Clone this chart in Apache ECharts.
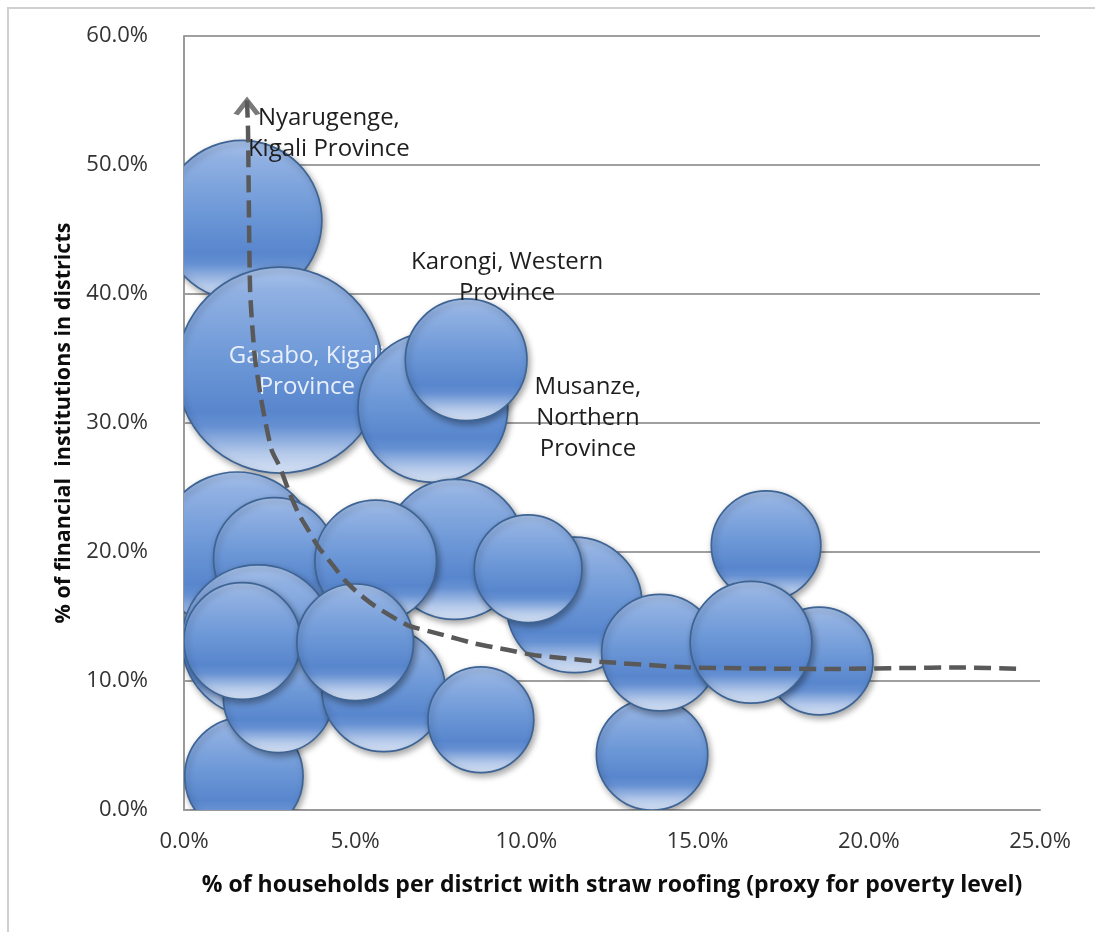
<!DOCTYPE html>
<html>
<head>
<meta charset="utf-8">
<script src="https://cdn.jsdelivr.net/npm/echarts@6/dist/echarts.min.js"></script>
<style>
html,body{margin:0;padding:0;background:#fff;}
#c{width:1095px;height:932px;}
</style>
</head>
<body>
<div id="c"></div>
<script>
// ---- data ----
const xValues = [1.69, 2.8, 1.55, 7.27, 8.24, 7.9, 11.4, 2.64, 2.16, 5.6, 10.05, 1.75, 2.75, 5.83, 1.7, 5.0, 8.67, 13.67, 13.9, 17.0, 18.55, 16.56];
const yValues = [45.7, 34.1, 20.0, 31.2, 34.9, 20.2, 15.9, 19.5, 13.1, 19.3, 18.7, 2.6, 8.7, 9.3, 13.1, 13.0, 7.0, 4.3, 12.2, 20.5, 11.55, 13.0];
const bubbleSizes = [64, 106, 64, 56, 37, 49, 46, 37, 58, 37, 29, 35, 30, 38, 34, 34, 28, 31, 34, 30, 29, 37];
const districtLabels = ['Nyarugenge,\nKigali Province', 'Gasabo, Kigali\nProvince', '', 'Musanze,\nNorthern\nProvince', 'Karongi, Western\nProvince',
  '', '', '', '', '', '', '', '', '', '', '', '', '', '', '', '', ''];
const trendX = [1.84, 1.87, 1.93, 2.07, 2.29, 2.56, 2.80, 3.05, 3.34, 3.63, 3.92, 4.31, 4.70, 5.09, 5.58, 6.07, 6.55, 7.53, 8.50, 9.47, 10.25, 12.15, 14.68, 16.8, 18.95, 20.91, 22.7, 24.36];
const trendY = [55.0, 52.7, 40.3, 35.1, 31.3, 27.9, 26.6, 24.8, 23.0, 21.7, 20.4, 19.1, 17.8, 16.8, 15.8, 15.0, 14.3, 13.6, 12.9, 12.4, 12.0, 11.5, 11.06, 10.97, 10.93, 11.0, 11.05, 10.95];
const xTitle = '% of households per district with straw roofing (proxy for poverty level)';
const yTitle = '% of financial  institutions in districts';

// ---- styling ----
const BUBBLE_SCALE = 10;
const labelStyle = {
  0: {dx: 87, dy: -87, fill: '#1e1e1e'},
  1: {dx: 27, dy: 2, fill: '#e8effa'},
  3: {dx: 155, dy: 11, fill: '#1e1e1e'},
  4: {dx: 41, dy: -82, fill: '#1e1e1e'}
};
const FONT = '"Open Sans", "Liberation Sans", sans-serif';

const bubbleData = xValues.map((x, i) => [x, yValues[i], bubbleSizes[i]]);
const trendData = trendX.map((x, i) => [x, trendY[i]]);

function bubbleFill() {
  return new echarts.graphic.LinearGradient(0, 0, 0, 1, [
    {offset: 0, color: '#aac4ec'},
    {offset: 0.12, color: '#90b0e2'},
    {offset: 0.45, color: '#6d98d7'},
    {offset: 0.7, color: '#5886cd'},
    {offset: 0.77, color: '#6590d2'},
    {offset: 0.9, color: '#b4c9ea'},
    {offset: 1, color: '#d6e2f4'}
  ]);
}

const chart = echarts.init(document.getElementById('c'), null, {renderer: 'canvas'});
chart.setOption({
  backgroundColor: '#fff',
  animation: false,
  graphic: [{
    type: 'rect', silent: true, z: -10,
    shape: {x: 8, y: 8, width: 1300, height: 1300},
    style: {fill: 'none', stroke: '#d0d0d0', lineWidth: 2}
  }],
  grid: {left: 184, right: 55, top: 36, bottom: 122, containLabel: false},
  xAxis: {
    type: 'value', min: 0, max: 25, interval: 5,
    name: xTitle, nameLocation: 'middle', nameGap: 64,
    nameTextStyle: {fontFamily: FONT, fontWeight: 'bold', fontSize: 23, color: '#0d0d0d'},
    axisLine: {show: true, lineStyle: {color: '#9a9a9a', width: 2}},
    axisTick: {show: false},
    splitLine: {show: false},
    axisLabel: {formatter: v => v.toFixed(1) + '%', fontFamily: FONT, fontSize: 22, color: '#333', margin: 21}
  },
  yAxis: {
    type: 'value', min: 0, max: 60, interval: 10,
    name: yTitle, nameLocation: 'middle', nameGap: 109,
    nameTextStyle: {fontFamily: FONT, fontWeight: 'bold', fontSize: 21.5, color: '#0d0d0d'},
    axisLine: {show: true, lineStyle: {color: '#9a9a9a', width: 2}},
    axisTick: {show: false},
    splitLine: {show: true, lineStyle: {color: '#9f9f9f', width: 2}},
    axisLabel: {formatter: v => v.toFixed(1) + '%', fontFamily: FONT, fontSize: 22, color: '#333', margin: 36}
  },
  series: [
    {
      type: 'custom', z: 2, clip: true,
      data: bubbleData,
      renderItem: function (params, api) {
        const i = params.dataIndex;
        const c = api.coord([api.value(0), api.value(1)]);
        const r = BUBBLE_SCALE * Math.sqrt(api.value(2));
        const children = [{
          type: 'circle',
          shape: {cx: c[0], cy: c[1], r: r},
          style: {
            fill: bubbleFill(), stroke: '#3d6494', lineWidth: 1.7,
            shadowBlur: 6, shadowColor: 'rgba(0,0,0,0.35)', shadowOffsetX: 2, shadowOffsetY: 3
          }
        }];
        const txt = districtLabels[i];
        if (txt) {
          const ls = labelStyle[i];
          children.push({
            type: 'text',
            x: c[0] + ls.dx, y: c[1] + ls.dy,
            style: {
              text: txt, fill: ls.fill, fontFamily: FONT, fontSize: 24,
              align: 'center', verticalAlign: 'middle', lineHeight: 31
            }
          });
        }
        return {type: 'group', children: children};
      }
    },
    {
      type: 'line', z: 5, data: trendData, smooth: 0.2,
      symbol: 'none', silent: true,
      lineStyle: {color: '#595959', width: 4.5, type: [17, 8]}
    },
    {
      type: 'scatter', z: 6, silent: true,
      data: [trendData[0]],
      symbol: 'path://M0,14 L11,0 L22,14',
      symbolSize: [22, 14], symbolOffset: [0, 7],
      itemStyle: {color: 'rgba(0,0,0,0)', borderColor: '#595959', borderWidth: 4.5}
    }
  ]
});
</script>
</body>
</html>
